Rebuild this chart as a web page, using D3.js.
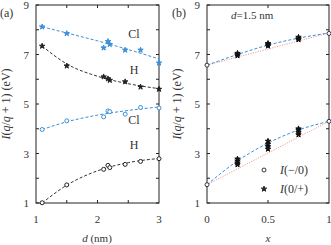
<!DOCTYPE html>
<html>
<head>
<meta charset="utf-8">
<script src="https://cdn.jsdelivr.net/npm/d3@7"></script>
<style>
  body { margin: 0; background: #fff; }
  svg { font-family: "Liberation Serif", "DejaVu Serif", serif; }
</style>
</head>
<body>
<svg id="chart" width="331" height="245"></svg>
<script>
// panel (a): ionisation energies vs d
const dVals = [1.1, 1.5, 2.1, 2.17, 2.2, 2.45, 2.7, 3.0];
const clPlus = [8.12, 7.85, 7.27, 7.53, 7.41, 7.18, 7.18, 6.66];
const hPlus = [7.34, 6.54, 6.10, 6.02, 5.96, 5.90, 5.69, 5.60];
const clMinus = [3.97, 4.32, 4.48, 4.72, 4.69, 4.59, 4.86, 4.84];
const hMinus = [1.01, 1.73, 2.36, 2.52, 2.43, 2.56, 2.68, 2.79];

// fitted curves
const fitD = [1.1, 1.5, 2.0, 2.5, 3.0];
const fitClPlus = [8.12, 7.87, 7.55, 7.20, 6.82];
const fitHPlus = [7.34, 6.62, 6.12, 5.82, 5.62];
const fitClMinus = [3.97, 4.28, 4.55, 4.74, 4.88];
const fitHMinus = [1.00, 1.72, 2.30, 2.63, 2.80];

// panel (b): vs x at d = 1.5 nm
const xPlus = [0, 0.25, 0.25, 0.25, 0.5, 0.5, 0.5, 0.75, 0.75, 0.75, 1];
const yPlus = [6.57, 6.95, 7.0, 7.05, 7.35, 7.4, 7.45, 7.6, 7.64, 7.7, 7.85];
const xMinus = [0, 0.25, 0.25, 0.25, 0.25, 0.5, 0.5, 0.5, 0.5, 0.75, 0.75, 0.75, 0.75, 1];
const yMinus = [1.74, 2.55, 2.62, 2.7, 2.78, 3.18, 3.28, 3.38, 3.5, 3.76, 3.85, 3.95, 4.0, 4.3];
const fitX = [0, 0.25, 0.5, 0.75, 1];
const fitBPlus = [6.57, 7.0, 7.38, 7.66, 7.87];
const fitBMinus = [1.74, 2.7, 3.42, 3.95, 4.3];
const linX = [0, 1];
const linPlus = [6.57, 7.87];
const linMinus = [1.74, 4.3];

const yTicks = [1, 3, 5, 7, 9];
const blue = "#3b8fd8";
const red = "#f08a80";

const svg = d3.select("#chart");

const yscale = d3.scaleLinear().domain([1, 9]).range([203, 5]);
const xa = d3.scaleLinear().domain([1, 3]).range([36, 159]);
const xb = d3.scaleLinear().domain([0, 1]).range([207, 329]);

function frame(xs, xTicks, xMinor, fmt) {
    const g = svg.append("g");
    const [x0, x1] = xs.range();
    const [y0, y1] = yscale.range();
    g.append("rect")
        .attr("x", x0).attr("y", y1)
        .attr("width", x1 - x0).attr("height", y0 - y1)
        .attr("fill", "none").attr("stroke", "#222").attr("stroke-width", 1);
    // inward ticks
    d3.range(1, 10).forEach(v => {
        const y = yscale(v);
        g.append("line").attr("x1", x0).attr("x2", x0 + 3).attr("y1", y).attr("y2", y).attr("stroke", "#222");
        g.append("line").attr("x1", x1).attr("x2", x1 - 3).attr("y1", y).attr("y2", y).attr("stroke", "#222");
    });
    xMinor.forEach(v => {
        const x = xs(v);
        g.append("line").attr("x1", x).attr("x2", x).attr("y1", y0).attr("y2", y0 - 3).attr("stroke", "#222");
        g.append("line").attr("x1", x).attr("x2", x).attr("y1", y1).attr("y2", y1 + 3).attr("stroke", "#222");
    });
    g.selectAll(".yl").data(yTicks).enter().append("text")
        .attr("x", x0 - 7).attr("y", d => yscale(d) + 4)
        .attr("text-anchor", "end").attr("font-size", "11px").attr("fill", "#333")
        .text(d => d);
    g.selectAll(".xl").data(xTicks).enter().append("text")
        .attr("x", d => xs(d)).attr("y", 223)
        .attr("text-anchor", "middle").attr("font-size", "11px").attr("fill", "#333")
        .text(fmt);
    // y label
    g.append("text")
        .attr("transform", `translate(${x0 - 26}, 104) rotate(-90)`)
        .attr("text-anchor", "middle").attr("font-size", "12px").attr("fill", "#333")
        .html('<tspan font-style="italic">I</tspan>(<tspan font-style="italic">q</tspan>/<tspan font-style="italic">q</tspan> + 1) (eV)');
    return g;
}

function curve(xs, xv, yv, color, dash) {
    const line = d3.line().x(d => xs(d[0])).y(d => yscale(d[1])).curve(d3.curveMonotoneX);
    svg.append("path")
        .attr("d", line(xv.map((x, i) => [x, yv[i]])))
        .attr("fill", "none").attr("stroke", color)
        .attr("stroke-width", 1).attr("stroke-dasharray", dash);
}

function dots(xs, xv, yv, color, filled) {
    const pts = xv.map((x, i) => [x, yv[i]]);
    if (filled) {
        svg.append("g").selectAll("path").data(pts).enter().append("path")
            .attr("transform", d => `translate(${xs(d[0])},${yscale(d[1])})`)
            .attr("d", d3.symbol(d3.symbolStar, 9))
            .attr("fill", color).attr("stroke", color).attr("stroke-width", 1);
    } else {
        svg.append("g").selectAll("circle").data(pts).enter().append("circle")
            .attr("cx", d => xs(d[0])).attr("cy", d => yscale(d[1])).attr("r", 2)
            .attr("fill", "#fff").attr("stroke", color).attr("stroke-width", 1);
    }
}

// ---- panel (a)
frame(xa, [1, 2, 3], [1.5, 2, 2.5], d => d);
curve(xa, fitD, fitClPlus, blue, "3,2");
curve(xa, fitD, fitHPlus, "#333", "3,2");
curve(xa, fitD, fitClMinus, blue, "3,2");
curve(xa, fitD, fitHMinus, "#333", "3,2");
dots(xa, dVals, clPlus, blue, true);
dots(xa, dVals, hPlus, "#222", true);
dots(xa, dVals, clMinus, blue, false);
dots(xa, dVals, hMinus, "#222", false);

const labA = [["Cl", 7.65], ["H", 6.2], ["Cl", 4.2], ["H", 3.2]];
svg.selectAll(".lab").data(labA).enter().append("text")
    .attr("x", 134).attr("y", d => yscale(d[1]))
    .attr("text-anchor", "middle").attr("font-size", "12px").attr("fill", "#333")
    .text(d => d[0]);

svg.append("text").attr("x", 0).attr("y", 17).attr("font-size", "12px").attr("fill", "#333").text("(a)");
svg.append("text").attr("x", 97).attr("y", 242).attr("text-anchor", "middle")
    .attr("font-size", "11px").attr("fill", "#333")
    .html('<tspan font-style="italic">d</tspan> (nm)');

// ---- panel (b)
frame(xb, [0, 0.5, 1], [0.5], d => d);
curve(xb, linX, linPlus, red, "1,1.5");
curve(xb, linX, linMinus, red, "1,1.5");
curve(xb, fitX, fitBPlus, blue, "3,2");
curve(xb, fitX, fitBMinus, blue, "3,2");
dots(xb, xPlus.slice(1, -1), yPlus.slice(1, -1), "#111", true);
dots(xb, xMinus.slice(1, -1), yMinus.slice(1, -1), "#111", true);
dots(xb, [xPlus[0], xPlus[xPlus.length - 1]], [yPlus[0], yPlus[yPlus.length - 1]], "#333", false);
dots(xb, [xMinus[0], xMinus[xMinus.length - 1]], [yMinus[0], yMinus[yMinus.length - 1]], "#333", false);

svg.append("text").attr("x", 172).attr("y", 17).attr("font-size", "12px").attr("fill", "#333").text("(b)");
svg.append("text").attr("x", 231).attr("y", 19).attr("font-size", "11px").attr("fill", "#333")
    .html('<tspan font-style="italic">d</tspan>=1.5 nm');
svg.append("text").attr("x", 268).attr("y", 242).attr("text-anchor", "middle")
    .attr("font-size", "11px").attr("font-style", "italic").attr("fill", "#333").text("x");

// legend
const leg = [["I(−/0)", false], ["I(0/+)", true]];
leg.forEach((l, i) => {
    const y = 170 + i * 19;
    if (l[1]) {
        svg.append("path").attr("transform", `translate(264,${y})`)
            .attr("d", d3.symbol(d3.symbolStar, 9)).attr("fill", "#222").attr("stroke", "#222");
    } else {
        svg.append("circle").attr("cx", 264).attr("cy", y).attr("r", 2)
            .attr("fill", "#fff").attr("stroke", "#333");
    }
    svg.append("text").attr("x", 280).attr("y", y + 4).attr("font-size", "12px").attr("fill", "#333")
        .html(`<tspan font-style="italic">I</tspan>${l[0].slice(1)}`);
});
</script>
</body>
</html>
